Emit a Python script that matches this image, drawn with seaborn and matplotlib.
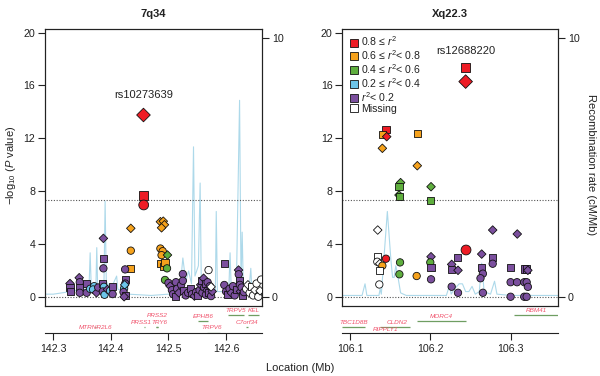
import numpy as np
import pandas as pd
import matplotlib
matplotlib.use("Agg")
import matplotlib.pyplot as plt
from matplotlib.lines import Line2D
import seaborn as sns

# ---------------- data ----------------
# LD categories
ld_labels = ["0.8 \u2264 $r^2$", "0.6 \u2264 $r^2$< 0.8", "0.4 \u2264 $r^2$< 0.6",
             "0.2 \u2264 $r^2$< 0.4", "$r^2$< 0.2", "Missing"]
ld_keys = ["r8", "r6", "r4", "r2", "r0", "na"]

# Left panel (7q34) SNPs: position (Mb), -log10 P, LD class, marker
L_pos = [142.4346, 142.4346, 142.4346, 142.486, 142.491, 142.493, 142.488, 142.486, 142.490, 142.488,
         142.487, 142.491, 142.494, 142.4983, 142.4975, 142.494,
         142.329, 142.329, 142.330, 142.345, 142.346, 142.345, 142.346, 142.357, 142.358, 142.364,
         142.371, 142.369, 142.375, 142.378, 142.387, 142.387, 142.387, 142.386, 142.388, 142.386,
         142.389, 142.394, 142.3986, 142.403, 142.403, 142.4247, 142.4247, 142.425, 142.423, 142.424,
         142.422, 142.426, 142.423,
         142.500, 142.503, 142.506, 142.508, 142.512, 142.513, 142.515, 142.518, 142.522, 142.525,
         142.525, 142.527, 142.530, 142.534, 142.538, 142.541, 142.545, 142.548, 142.551, 142.554,
         142.556, 142.558, 142.559, 142.561, 142.562, 142.564, 142.565, 142.567, 142.568, 142.570,
         142.572, 142.574, 142.576, 142.5696, 142.574,
         142.5969, 142.597, 142.600, 142.603, 142.606, 142.609, 142.612, 142.615, 142.618, 142.6217,
         142.622, 142.623, 142.624, 142.625, 142.627, 142.629, 142.631,
         142.635, 142.638, 142.641, 142.644, 142.647, 142.650, 142.653, 142.656, 142.659, 142.661]
L_logp = [5.18, 3.49, 2.15, 5.68, 5.72, 5.45, 5.22, 3.65, 3.45, 3.15,
          2.55, 2.30, 2.60, 3.16, 2.15, 1.27,
          1.0, 0.7, 0.4, 1.44, 1.1, 0.7, 0.3, 1.0, 0.3, 0.6,
          0.8, 0.55, 0.3, 0.7, 4.42, 2.91, 2.15, 1.0, 0.75, 0.4,
          0.15, 0.55, 0.45, 0.75, 0.2, 2.07, 1.34, 1.0, 0.63, 0.9,
          0.35, 0.1, 0.0,
          1.05, 0.8, 0.5, 0.2, 0.05, 1.1, 0.6, 0.3, 0.9, 1.72,
          1.21, 0.45, 0.1, 0.3, 0.6, 0.2, 0.05, 0.35, 0.1, 0.5,
          0.9, 1.2, 0.3, 1.4, 0.7, 1.0, 0.15, 0.5, 1.1, 0.3,
          0.8, 0.05, 0.4, 2.02, 0.75,
          2.53, 0.89, 0.4, 0.15, 0.6, 0.3, 0.8, 0.1, 0.55, 2.02,
          1.7, 1.2, 0.9, 0.4, 0.7, 0.1, 0.35,
          0.6, 0.9, 0.3, 0.75, 0.1, 0.5, 1.0, 0.0, 0.45, 1.3]
L_ld = (["r6"] * 13 + ["r4"] * 3 +
        ["r0"] * 9 + ["r2", "r2", "r2", "r0", "r0", "r0", "r0", "r0", "r0", "r2", "r0",
                      "r2", "r0", "r2", "r0", "r0", "r0", "r0", "r0", "r2", "r2",
                      "r0", "r0", "r0"] +
        ["r0"] * 33 + ["na", "na"] +
        ["r0"] * 17 +
        ["na"] * 10)
L_mk = ["D", "o", "s", "D", "D", "D", "D", "o", "o", "o",
        "s", "s", "s", "D", "o", "o",
        "D", "s", "s", "D", "o", "s", "o", "s", "o", "o",
        "o", "o", "D", "o", "D", "s", "o", "s", "o", "o",
        "o", "D", "o", "s", "o", "o", "s", "o", "o", "D",
        "o", "s", "D",
        "o", "D", "o", "o", "s", "o", "o", "D", "o", "o",
        "o", "s", "o", "o", "s", "o", "D", "o", "s", "o",
        "D", "s", "o", "D", "o", "s", "o", "D", "o", "s",
        "o", "o", "D", "o", "D",
        "s", "o", "o", "s", "o", "D", "o", "o", "s", "D",
        "o", "s", "o", "D", "o", "s", "o",
        "o", "D", "o", "s", "o", "D", "o", "o", "D", "o"]

# Left lead SNPs
L_lead_pos = [142.4566, 142.457, 142.457]
L_lead_logp = [13.76, 7.63, 6.95]
L_lead_mk = ["D", "s", "o"]
L_lead_name = "rs10273639"

# Right panel (Xq22.3) SNPs
R_pos = [106.1448, 106.1407, 106.1457, 106.1403, 106.1838, 106.1838, 106.163, 106.161, 106.2009, 106.161,
         106.162, 106.2005,
         106.1345, 106.1345, 106.1340, 106.1448, 106.1370, 106.1403, 106.1365, 106.1365,
         106.1623, 106.1615, 106.183, 106.2009, 106.2000, 106.2009, 106.2009,
         106.2266, 106.2266, 106.234, 106.2345, 106.2266, 106.2345,
         106.264, 106.2635, 106.2655, 106.2625, 106.2655,
         106.2777, 106.2777, 106.2777, 106.3083, 106.300, 106.300, 106.308, 106.300,
         106.317, 106.3195, 106.3215, 106.317, 106.320, 106.3215, 106.317, 106.320]
R_logp = [12.63, 12.25, 12.12, 11.24, 12.38, 9.92, 8.64, 8.33, 8.33, 7.70,
          7.58, 7.27,
          5.05, 3.08, 2.65, 2.88, 2.50, 2.35, 1.97, 0.93,
          2.60, 1.70, 1.57, 3.03, 2.60, 2.20, 1.32,
          2.45, 2.07, 2.98, 2.00, 0.76, 0.30,
          3.23, 2.20, 1.75, 1.40, 0.30,
          5.05, 3.00, 2.50, 4.75, 2.22, 1.10, 1.10, 0.00,
          2.10, 2.10, 2.00, 1.10, 1.10, 0.75, 0.00, 0.00]
R_ld = (["r8", "r6", "r8", "r6", "r6", "r6", "r4", "r4", "r4", "r4", "r4", "r4"] +
        ["na", "na", "na", "r8", "na", "r6", "na", "na"] +
        ["r4", "r4", "r6", "r0", "r4", "r0", "r0"] +
        ["r0"] * 27)
R_mk = ["s", "s", "D", "D", "s", "D", "D", "s", "D", "D",
        "s", "s",
        "D", "s", "o", "o", "D", "o", "s", "o",
        "o", "o", "o", "D", "o", "s", "o",
        "D", "s", "s", "D", "o", "o",
        "D", "s", "o", "o", "o",
        "D", "s", "o", "D", "s", "o", "o", "o",
        "s", "s", "D", "o", "o", "o", "o", "o"]

R_lead_pos = [106.244, 106.244, 106.2445]
R_lead_logp = [17.35, 16.29, 3.54]
R_lead_mk = ["s", "D", "o"]
R_lead_name = "rs12688220"

# Recombination rate (cM/Mb)
L_rec_pos = [142.286, 142.300, 142.330, 142.350, 142.362, 142.364, 142.366, 142.374, 142.3755, 142.377,
             142.388, 142.390, 142.392, 142.400, 142.410, 142.412, 142.430, 142.470, 142.500, 142.520,
             142.525, 142.530, 142.535, 142.540, 142.5435, 142.546, 142.552, 142.555, 142.557, 142.565,
             142.570, 142.5815, 142.583, 142.585, 142.600, 142.605, 142.607, 142.609, 142.618, 142.6235,
             142.626, 142.628, 142.630, 142.640, 142.643, 142.645, 142.663]
L_rec_rate = [0.1, 0.1, 0.2, 0.3, 0.3, 1.7, 0.3, 0.4, 1.9, 0.4,
              0.5, 3.7, 0.6, 0.3, 0.8, 0.3, 0.1, 0.05, 0.1, 0.3,
              1.5, 0.6, 1.0, 0.5, 5.8, 0.8, 1.2, 4.4, 0.6, 0.4,
              0.3, 0.2, 3.3, 0.2, 0.2, 0.4, 1.7, 0.3, 0.5, 7.6,
              0.6, 2.5, 0.4, 0.3, 1.1, 0.2, 0.1]
R_rec_pos = [106.090, 106.115, 106.1187, 106.121, 106.136, 106.1375, 106.139, 106.1465, 106.151, 106.153,
             106.155, 106.157, 106.159, 106.163, 106.170, 106.220, 106.224, 106.226, 106.230, 106.236,
             106.240, 106.244, 106.248, 106.252, 106.256, 106.261, 106.264, 106.267, 106.275, 106.280,
             106.283, 106.300, 106.359]
R_rec_rate = [0.05, 0.05, 0.5, 0.05, 0.05, 0.3, 0.1, 3.3, 1.4, 0.75,
              0.75, 1.2, 0.9, 0.15, 0.05, 0.05, 0.45, 0.1, 0.3, 0.5,
              0.5, 0.2, 0.2, 0.4, 0.1, 0.2, 1.3, 0.2, 0.1, 0.6,
              0.1, 0.05, 0.05]

# Genes: name, start, end (Mb)
L_genes = ["MTRNR2L6", "PRSS2", "PRSS1", "TRY6", "EPHB6", "TRPV6", "TRPV5", "KEL", "C7orf34"]
L_gene_start = [142.373, 142.479, 142.457, 142.479, 142.5516, 142.567, 142.6033, 142.638, 142.6355]
L_gene_end = [142.375, 142.481, 142.459, 142.481, 142.5690, 142.590, 142.6304, 142.658, 142.6375]
R_genes = ["TBC1D8B", "CLDN2", "RIPPLY1", "MORC4", "RBM41"]
R_gene_start = [106.0897, 106.1374, 106.1440, 106.1838, 106.3042]
R_gene_end = [106.1187, 106.1747, 106.1460, 106.2441, 106.3594]

# ---------------- layout / style (not data) ----------------
L_gene_row = [(0.20, 0.24), (0.64, 0.24), (0.39, 0.24), (0.39, 0.24), (0.63, 0.45), (0.20, 0.02),
              (0.83, 0.67), (0.83, 0.67), (0.39, 0.24)]
L_label_x = [142.374, 142.480, 142.471, 142.471, 142.560, 142.575, 142.617, 142.648, 142.636]
L_label_ha = ["center", "center", "right", "left", "center", "center", "center", "center", "center"]
R_gene_row = [(0.40, 0.24), (0.39, 0.24), (0.15, 0.02), (0.63, 0.46), (0.83, 0.67)]
R_label_x = [106.105, 106.1585, 106.1448, 106.2133, 106.3316]

colors = {"r8": "#ee1c25", "r6": "#f6a21c", "r4": "#5fae3e", "r2": "#6cc5ea",
          "r0": "#7b4f9e", "na": "#ffffff"}
rec_color = "#add9ea"
gene_txt = "#f0506a"
gene_line = "#6f9e62"
sizes = {"D": 19, "s": 26, "o": 28}
lead_sizes = {"D": 48, "s": 42, "o": 50}

sns.set_theme(style="white")
plt.rcParams["font.family"] = ["Liberation Sans", "DejaVu Sans"]
plt.rcParams["mathtext.fontset"] = "custom"
plt.rcParams["mathtext.rm"] = "Liberation Sans"
plt.rcParams["mathtext.it"] = "Liberation Sans:italic"
plt.rcParams["axes.edgecolor"] = "#222222"
plt.rcParams["text.color"] = "#222222"

fig = plt.figure(figsize=(6.0, 3.76), dpi=100)

k_rec = 10 / 19.57
ylim = (-0.7, 20.25)

panels = [
    dict(title="7q34", rect=(0.075, 0.1862, 0.3622, 0.7359), grect=(0.075, 0.1136, 0.3622, 0.0726),
         xlim=(142.2856, 142.663), xticks=[142.3, 142.4, 142.5, 142.6],
         pos=L_pos, logp=L_logp, ld=L_ld, mk=L_mk,
         lpos=L_lead_pos, llogp=L_lead_logp, lmk=L_lead_mk, lname=L_lead_name, lname_y=14.9,
         rpos=L_rec_pos, rrate=L_rec_rate,
         genes=L_genes, gs=L_gene_start, ge=L_gene_end, grow=L_gene_row, glx=L_label_x, gha=L_label_ha),
    dict(title="Xq22.3", rect=(0.5705, 0.1862, 0.36, 0.7359), grect=(0.5705, 0.1136, 0.36, 0.0726),
         xlim=(106.0904, 106.3594), xticks=[106.1, 106.2, 106.3],
         pos=R_pos, logp=R_logp, ld=R_ld, mk=R_mk,
         lpos=R_lead_pos, llogp=R_lead_logp, lmk=R_lead_mk, lname=R_lead_name, lname_y=18.2,
         rpos=R_rec_pos, rrate=R_rec_rate,
         genes=R_genes, gs=R_gene_start, ge=R_gene_end, grow=R_gene_row, glx=R_label_x,
         gha=["center"] * 5),
]

for i, p in enumerate(panels):
    ax = fig.add_axes(p["rect"])
    ax2 = ax.twinx()
    ax.set_zorder(ax2.get_zorder() + 1)
    ax.patch.set_visible(False)

    # recombination rate
    rec = pd.DataFrame({"pos": p["rpos"], "rate": p["rrate"]})
    sns.lineplot(data=rec, x="pos", y="rate", ax=ax2, color=rec_color, lw=0.8,
                 estimator=None, sort=False)
    ax2.set_ylim(ylim[0] * k_rec, ylim[1] * k_rec)
    ax2.set_yticks([0, 10])
    ax2.set_xlabel("")
    ax2.set_ylabel("")

    # reference lines
    ax.axhline(0, color="#555555", lw=0.8, ls=(0, (1, 1.5)), zorder=0)
    ax.axhline(-np.log10(5e-8), color="#555555", lw=0.8, ls=(0, (1, 1.5)), zorder=0)

    df = pd.DataFrame({"pos": p["pos"], "logp": p["logp"], "ld": p["ld"], "mk": p["mk"]})
    sns.scatterplot(data=df, x="pos", y="logp", hue="ld", palette=colors, style="mk",
                    markers={"D": "D", "s": "s", "o": "o"}, size="mk", sizes=sizes,
                    edgecolor="#111111", linewidth=0.6, ax=ax, legend=False, zorder=3)
    lead = pd.DataFrame({"pos": p["lpos"], "logp": p["llogp"], "mk": p["lmk"]})
    sns.scatterplot(data=lead, x="pos", y="logp", color=colors["r8"], style="mk",
                    markers={"D": "D", "s": "s", "o": "o"}, size="mk", sizes=lead_sizes,
                    edgecolor="#111111", linewidth=0.6, ax=ax, legend=False, zorder=4)
    ax.text(p["lpos"][0], p["lname_y"], p["lname"], ha="center", va="bottom", fontsize=8)

    ax.set_xlim(p["xlim"])
    ax2.set_xlim(p["xlim"])
    ax.set_ylim(ylim)
    ax.set_yticks([0, 4, 8, 12, 16, 20])
    ax.set_xticks([])
    ax.set_xlabel("")
    ax.set_ylabel("")
    ax.set_title(p["title"], fontsize=8, fontweight="bold", pad=9)
    for a in (ax, ax2):
        a.tick_params(axis="y", direction="out", length=5, width=0.8, labelsize=7.7,
                      colors="#222222", pad=2)
        for s in a.spines.values():
            s.set_linewidth(0.8)
            s.set_color("#222222")
    ax.tick_params(axis="y", left=True)
    ax2.tick_params(axis="y", right=True)

    # gene track + x axis
    g = fig.add_axes(p["grect"])
    g.set_xlim(p["xlim"])
    g.set_ylim(0, 1)
    for s in ["top", "left", "right"]:
        g.spines[s].set_visible(False)
    g.spines["bottom"].set_linewidth(0.8)
    g.spines["bottom"].set_color("#222222")
    g.set_yticks([])
    g.set_xticks(p["xticks"])
    g.set_xticklabels([f"{t:.1f}" for t in p["xticks"]])
    g.tick_params(axis="x", direction="out", length=5, width=0.8, labelsize=7.7,
                  colors="#222222", pad=3, bottom=True)
    g.patch.set_visible(False)
    for name, gs_, ge_, (ty, ly), lx, ha in zip(p["genes"], p["gs"], p["ge"], p["grow"],
                                                 p["glx"], p["gha"]):
        g.plot([gs_, ge_], [ly, ly], color=gene_line, lw=0.9, solid_capstyle="butt",
               clip_on=True)
        g.text(lx, ty, name, fontsize=4.6, style="italic", color=gene_txt,
               ha=ha, va="center")

    if i == 1:
        handles = [Line2D([], [], marker="s", ls="none", markersize=5.5,
                          markerfacecolor=colors[kk], markeredgecolor="#111111",
                          markeredgewidth=0.6) for kk in ld_keys]
        ax.legend(handles, ld_labels, loc="upper left", bbox_to_anchor=(0.01, 1.0),
                  frameon=False, fontsize=7.6, handlelength=0.8, handletextpad=0.3,
                  labelspacing=0.0, borderaxespad=0.3, borderpad=0.2)

fig.text(0.018, 1 - 165 / 376, "\u2212log$_{10}$ ($P$ value)", rotation=90,
         ha="center", va="center", fontsize=8)
fig.text(0.985, 1 - 165 / 376, "Recombination rate (cM/Mb)", rotation=270,
         ha="center", va="center", fontsize=8)
fig.text(0.5, 1 - 368 / 376, "Location (Mb)", ha="center", va="center", fontsize=8)

fig.savefig("out.png", dpi=100)
